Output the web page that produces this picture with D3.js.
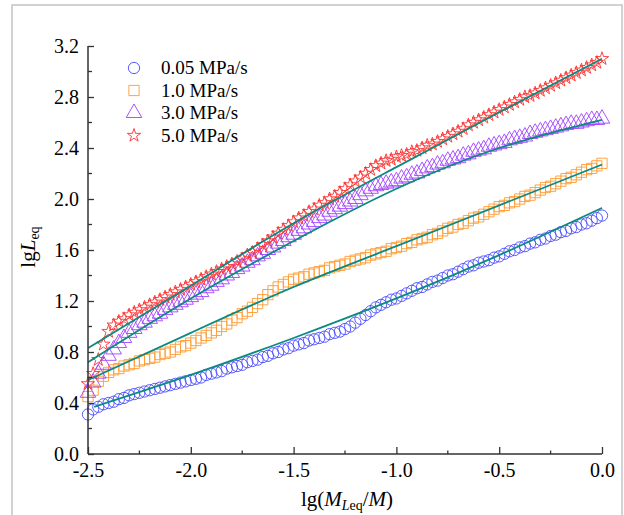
<!DOCTYPE html>
<html lang="en">
<head>
  <meta charset="UTF-8">
  <title>lgLeq</title>
  <script src="https://cdn.jsdelivr.net/npm/d3@7/dist/d3.min.js"></script>
  <style>
    body { margin: 0; background: #fff; }
  </style>
</head>
<body>
<script>
  // x positions of the measured points (lg(MLeq/M))
  const xs = [-2.5, -2.475, -2.45, -2.425, -2.4, -2.375, -2.35, -2.325, -2.3, -2.275,
    -2.25, -2.225, -2.2, -2.175, -2.15, -2.125, -2.1, -2.075, -2.05, -2.025,
    -2.0, -1.975, -1.95, -1.925, -1.9, -1.875, -1.85, -1.825, -1.8, -1.775,
    -1.75, -1.725, -1.7, -1.675, -1.65, -1.625, -1.6, -1.575, -1.55, -1.525,
    -1.5, -1.475, -1.45, -1.425, -1.4, -1.375, -1.35, -1.325, -1.3, -1.275,
    -1.25, -1.225, -1.2, -1.175, -1.15, -1.125, -1.1, -1.075, -1.05, -1.025,
    -1.0, -0.975, -0.95, -0.925, -0.9, -0.875, -0.85, -0.825, -0.8, -0.775,
    -0.75, -0.725, -0.7, -0.675, -0.65, -0.625, -0.6, -0.575, -0.55, -0.525,
    -0.5, -0.475, -0.45, -0.425, -0.4, -0.375, -0.35, -0.325, -0.3, -0.275,
    -0.25, -0.225, -0.2, -0.175, -0.15, -0.125, -0.1, -0.075, -0.05, -0.025, 0.0];

  // lgLeq for each loading rate
  const y005 = [0.31, 0.35, 0.37, 0.39, 0.40, 0.41, 0.43, 0.44, 0.46, 0.47,
    0.48, 0.49, 0.50, 0.51, 0.52, 0.53, 0.54, 0.55, 0.56, 0.57,
    0.58, 0.59, 0.60, 0.62, 0.63, 0.64, 0.65, 0.67, 0.68, 0.69,
    0.70, 0.72, 0.73, 0.74, 0.76, 0.77, 0.79, 0.80, 0.82, 0.83,
    0.85, 0.86, 0.87, 0.89, 0.90, 0.91, 0.92, 0.94, 0.95, 0.96,
    0.98, 1.00, 1.03, 1.06, 1.09, 1.12, 1.15, 1.17, 1.19, 1.21,
    1.22, 1.24, 1.26, 1.28, 1.30, 1.31, 1.33, 1.35, 1.36, 1.38,
    1.40, 1.41, 1.43, 1.45, 1.47, 1.48, 1.50, 1.51, 1.52, 1.54,
    1.55, 1.57, 1.59, 1.60, 1.62, 1.63, 1.65, 1.66, 1.68, 1.69,
    1.71, 1.72, 1.74, 1.75, 1.77, 1.78, 1.80, 1.81, 1.83, 1.85, 1.87];

  const y10 = [0.45, 0.50, 0.57, 0.61, 0.64, 0.66, 0.67, 0.69, 0.70, 0.71,
    0.73, 0.74, 0.75, 0.76, 0.78, 0.79, 0.80, 0.82, 0.84, 0.85,
    0.87, 0.89, 0.91, 0.93, 0.95, 0.97, 1.00, 1.02, 1.05, 1.07,
    1.10, 1.12, 1.15, 1.18, 1.21, 1.25, 1.28, 1.31, 1.33, 1.35,
    1.37, 1.38, 1.39, 1.41, 1.42, 1.43, 1.44, 1.46, 1.47, 1.48,
    1.49, 1.51, 1.52, 1.53, 1.54, 1.56, 1.57, 1.58, 1.59, 1.61,
    1.62, 1.63, 1.65, 1.66, 1.68, 1.69, 1.70, 1.72, 1.73, 1.75,
    1.77, 1.78, 1.80, 1.81, 1.83, 1.85, 1.86, 1.88, 1.90, 1.92,
    1.94, 1.95, 1.97, 1.98, 2.00, 2.02, 2.03, 2.05, 2.07, 2.09,
    2.10, 2.12, 2.14, 2.16, 2.17, 2.19, 2.21, 2.23, 2.24, 2.26, 2.28];

  const y30 = [0.48, 0.56, 0.63, 0.70, 0.77, 0.82, 0.87, 0.91, 0.95, 0.98,
    1.01, 1.03, 1.06, 1.08, 1.10, 1.13, 1.15, 1.17, 1.19, 1.21,
    1.23, 1.25, 1.27, 1.30, 1.32, 1.35, 1.37, 1.40, 1.42, 1.45,
    1.47, 1.50, 1.52, 1.55, 1.57, 1.60, 1.62, 1.65, 1.67, 1.70,
    1.72, 1.75, 1.77, 1.80, 1.82, 1.85, 1.87, 1.90, 1.92, 1.94,
    1.96, 1.98, 2.00, 2.03, 2.06, 2.08, 2.10, 2.11, 2.12, 2.13,
    2.14, 2.16, 2.17, 2.19, 2.20, 2.22, 2.24, 2.25, 2.27, 2.28,
    2.30, 2.31, 2.32, 2.34, 2.35, 2.37, 2.38, 2.39, 2.41, 2.42,
    2.43, 2.44, 2.46, 2.47, 2.48, 2.49, 2.51, 2.52, 2.53, 2.54,
    2.55, 2.56, 2.57, 2.58, 2.59, 2.59, 2.60, 2.61, 2.62, 2.62, 2.63];

  const y50 = [0.55, 0.63, 0.74, 0.86, 0.96, 1.01, 1.04, 1.06, 1.09, 1.11,
    1.13, 1.15, 1.17, 1.19, 1.21, 1.23, 1.25, 1.27, 1.29, 1.31,
    1.33, 1.35, 1.37, 1.39, 1.41, 1.43, 1.45, 1.47, 1.49, 1.51,
    1.53, 1.56, 1.58, 1.61, 1.64, 1.67, 1.70, 1.73, 1.76, 1.79,
    1.82, 1.85, 1.87, 1.90, 1.92, 1.95, 1.97, 2.00, 2.02, 2.05,
    2.08, 2.11, 2.14, 2.17, 2.20, 2.23, 2.26, 2.28, 2.30, 2.31,
    2.33, 2.34, 2.35, 2.37, 2.38, 2.40, 2.42, 2.43, 2.45, 2.47,
    2.49, 2.51, 2.53, 2.55, 2.58, 2.60, 2.62, 2.64, 2.66, 2.68,
    2.70, 2.72, 2.74, 2.76, 2.78, 2.80, 2.81, 2.83, 2.85, 2.87,
    2.89, 2.91, 2.93, 2.95, 2.97, 2.99, 3.01, 3.03, 3.05, 3.07, 3.10];

  // fitted curves (teal lines)
  const fitX005 = [-2.47, -2.0, -1.5, -1.0, -0.5, 0.0];
  const fit005 = [0.37, 0.62, 0.91, 1.22, 1.56, 1.93];
  const fitX = [-2.5, -2.0, -1.5, -1.0, -0.5, 0.0];
  const fit10 = [0.58, 0.95, 1.31, 1.63, 1.95, 2.27];
  const fit30 = [0.72, 1.22, 1.67, 2.08, 2.40, 2.62];
  const fit50 = [0.83, 1.32, 1.81, 2.25, 2.68, 3.10];

  const seriesNames = ["0.05 MPa/s", "1.0 MPa/s", "3.0 MPa/s", "5.0 MPa/s"];
  const xTicks = [-2.5, -2.0, -1.5, -1.0, -0.5, 0.0];
  const yTicks = [0.0, 0.4, 0.8, 1.2, 1.6, 2.0, 2.4, 2.8, 3.2];

  const serif = "'Liberation Serif', 'Times New Roman', serif";
  const width = 624, height = 515;
  const svg = d3.select("body").append("svg")
    .attr("width", width).attr("height", height);

  // light frame round the figure
  svg.append("rect")
    .attr("x", 12).attr("y", 5).attr("width", 610).attr("height", 530)
    .attr("fill", "none").attr("stroke", "#c4c4c4").attr("stroke-width", 1.5);

  const scaleX = d3.scaleLinear().domain([-2.5, 0]).range([88, 602]);
  const scaleY = d3.scaleLinear().domain([0, 3.2]).range([454, 46]);

  const series = [
    { name: seriesNames[0], ys: y005, color: "#4848ff", symbol: d3.symbolCircle, size: 100,
      fx: fitX005, fy: fit005 },
    { name: seriesNames[1], ys: y10, color: "#ff9a30", symbol: d3.symbolSquare, size: 105,
      fx: fitX, fy: fit10 },
    { name: seriesNames[2], ys: y30, color: "#a040ff", symbol: d3.symbolTriangle, size: 105,
      fx: fitX, fy: fit30 },
    { name: seriesNames[3], ys: y50, color: "#ff3030", symbol: d3.symbolStar, size: 55,
      fx: fitX, fy: fit50 }
  ];

  // markers
  series.forEach(s => {
    const sym = d3.symbol().type(s.symbol).size(s.size);
    svg.append("g").selectAll("path")
      .data(xs.map((x, i) => [x, s.ys[i]]))
      .enter().append("path")
      .attr("d", sym)
      .attr("transform", d => `translate(${scaleX(d[0])},${scaleY(d[1])})`)
      .attr("fill", "none")
      .attr("stroke", s.color)
      .attr("stroke-width", 0.9);
  });

  // fitted lines
  const line = d3.line().x(d => scaleX(d[0])).y(d => scaleY(d[1])).curve(d3.curveNatural);
  series.forEach(s => {
    svg.append("path")
      .datum(s.fx.map((x, i) => [x, s.fy[i]]))
      .attr("d", line)
      .attr("fill", "none")
      .attr("stroke", "#0a8a80")
      .attr("stroke-width", 1.8);
  });

  // axes
  const fmt = v => v.toFixed(1);
  const axisX = d3.axisBottom(scaleX).tickValues(xTicks).tickSize(-7).tickFormat(fmt).tickPadding(9);
  const axisY = d3.axisLeft(scaleY).tickValues(yTicks).tickSize(-6).tickFormat(fmt).tickPadding(9);

  const gx = svg.append("g").attr("transform", "translate(0,454)").call(axisX);
  const gy = svg.append("g").attr("transform", "translate(88,0)").call(axisY);

  // minor ticks
  gx.selectAll(".minor").data([-2.25, -1.75, -1.25, -0.75, -0.25]).enter()
    .append("line").attr("class", "minor")
    .attr("x1", d => scaleX(d)).attr("x2", d => scaleX(d))
    .attr("y1", 0).attr("y2", -3.5);
  gy.selectAll(".minor").data([0.2, 0.6, 1.0, 1.4, 1.8, 2.2, 2.6, 3.0]).enter()
    .append("line").attr("class", "minor")
    .attr("y1", d => scaleY(d)).attr("y2", d => scaleY(d))
    .attr("x1", 0).attr("x2", 4);

  [gx, gy].forEach(g => {
    g.attr("font-family", serif).attr("font-size", 20);
    g.select(".domain").attr("stroke", "#333").attr("stroke-width", 1.5);
    g.selectAll("line").attr("stroke", "#333").attr("stroke-width", 1.3);
    g.selectAll("text").attr("fill", "#000")
      .style("font-family", serif).style("font-size", "20px");
  });
  gx.select(".domain").attr("d", "M88,0H602");
  gy.select(".domain").attr("d", "M0,454V46");

  // axis titles
  const xt = svg.append("text")
    .style("font-family", serif).style("font-size", "21px")
    .attr("x", 347).attr("y", 506).attr("text-anchor", "middle");
  xt.append("tspan").text("lg(");
  xt.append("tspan").attr("font-style", "italic").text("M");
  xt.append("tspan").attr("font-style", "italic").style("font-size", "14px").attr("dy", 4).text("L");
  xt.append("tspan").style("font-size", "14px").text("eq");
  xt.append("tspan").attr("dy", -4).text("/");
  xt.append("tspan").attr("font-style", "italic").text("M");
  xt.append("tspan").text(")");

  const yt = svg.append("text")
    .style("font-family", serif).style("font-size", "21px")
    .attr("transform", "translate(35,247) rotate(-90)").attr("text-anchor", "middle");
  yt.append("tspan").text("lg");
  yt.append("tspan").attr("font-style", "italic").text("L");
  yt.append("tspan").style("font-size", "14px").attr("dy", 4).text("eq");

  // legend
  const legend = svg.append("g");
  series.forEach((s, i) => {
    const yy = 68 + i * 22.5;
    legend.append("path")
      .attr("d", d3.symbol().type(s.symbol).size(s.size)())
      .attr("transform", `translate(134,${yy})`)
      .attr("fill", "none").attr("stroke", s.color).attr("stroke-width", 0.9);
    legend.append("text")
      .style("font-family", serif).style("font-size", "19px")
      .attr("x", 161).attr("y", yy + 6).text(s.name);
  });
</script>
</body>
</html>
